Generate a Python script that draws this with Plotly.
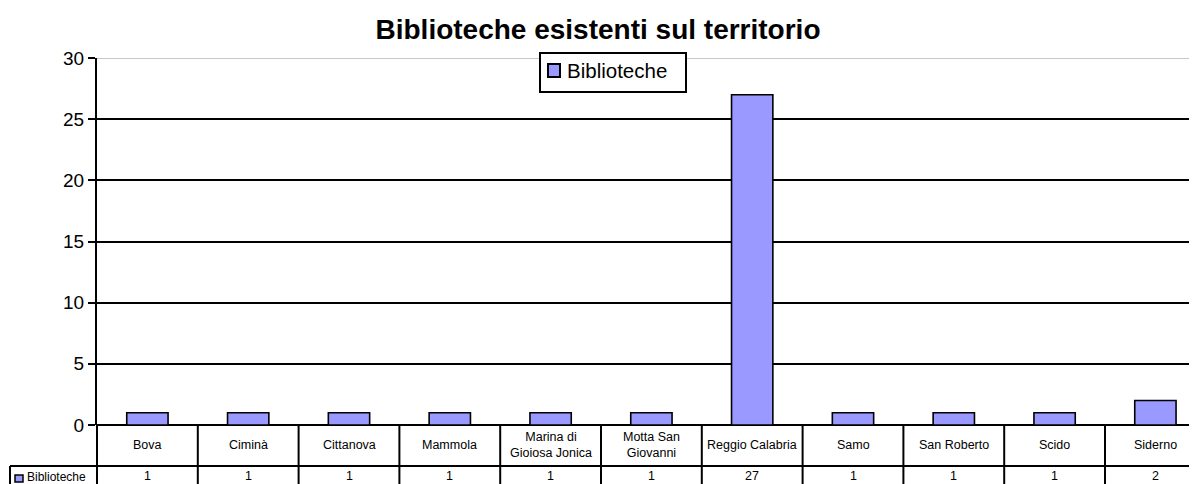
import plotly.graph_objects as go

categories = ["Bova", "Ciminà", "Cittanova", "Mammola", "Marina di Gioiosa Jonica",
              "Motta San Giovanni", "Reggio Calabria", "Samo", "San Roberto", "Scido", "Siderno"]
cat_labels = ["Bova", "Ciminà", "Cittanova", "Mammola", "Marina di<br>Gioiosa Jonica",
              "Motta San<br>Giovanni", "Reggio Calabria", "Samo", "San Roberto", "Scido", "Siderno"]
values = [1, 1, 1, 1, 1, 1, 27, 1, 1, 1, 2]
series_name = "Biblioteche"
title = "Biblioteche esistenti sul territorio"
y_ticks = [0, 5, 10, 15, 20, 25, 30]

FONT = "Arial, Liberation Sans, sans-serif"
BAR_COLOR = "#9999FF"
OFF = 8                     # body margin of the html page
W, H = 1197 - OFF, 484 - OFF
PLOT_L, PLOT_T, PLOT_B = 97, 58, 425   # page pixels
ML, MT = PLOT_L - OFF, PLOT_T - OFF
MB = H - (PLOT_B - OFF)
MR = 0
PW = W - ML - MR
PH = H - MT - MB
COL_W = 100.8


def px(xp):
    return (xp - PLOT_L) / PW


def py(yp):
    return (PLOT_B - yp) / PH


n = len(categories)
xs = list(range(n))

fig = go.Figure()
fig.add_trace(go.Bar(
    x=xs, y=values, name=series_name, width=0.41,
    marker=dict(color=BAR_COLOR, line=dict(color="black", width=1.6)),
    showlegend=False,
))

shapes = []
LINE = dict(color="black", width=2)
# value row top line
shapes.append(dict(type="line", xref="paper", yref="paper",
                   x0=px(10), x1=1.02, y0=py(466), y1=py(466), line=LINE))
# vertical separators between categories
for i in range(n - 1):
    shapes.append(dict(type="line", xref="x", yref="paper",
                       x0=i + 0.5, x1=i + 0.5, y0=0, y1=py(500), line=LINE))
# left table border (continuation of axis)
shapes.append(dict(type="line", xref="paper", yref="paper",
                   x0=0, x1=0, y0=0, y1=py(500), line=LINE))
# label cell left border
shapes.append(dict(type="line", xref="paper", yref="paper",
                   x0=px(10), x1=px(10), y0=py(466), y1=py(500), line=LINE))
# gray top gridline
shapes.append(dict(type="line", xref="paper", yref="y",
                   x0=0, x1=1, y0=y_ticks[-1], y1=y_ticks[-1],
                   line=dict(color="#c8c8c8", width=2)))
# legend key in label cell
shapes.append(dict(type="rect", xref="paper", yref="paper",
                   x0=px(15), x1=px(23), y0=py(475), y1=py(482),
                   fillcolor=BAR_COLOR, line=dict(color="black", width=1.5)))
# legend box
shapes.append(dict(type="rect", xref="paper", yref="paper",
                   x0=px(540), x1=px(686), y0=py(53), y1=py(92),
                   fillcolor="white", line=dict(color="black", width=2), layer="above"))
shapes.append(dict(type="rect", xref="paper", yref="paper",
                   x0=px(548), x1=px(560), y0=py(64), y1=py(77),
                   fillcolor=BAR_COLOR, line=dict(color="black", width=2), layer="above"))

annotations = []
for i, lab in enumerate(cat_labels):
    annotations.append(dict(x=i, y=py(445), xref="x", yref="paper",
                            text=lab, showarrow=False, xanchor="center", yanchor="middle",
                            font=dict(family=FONT, size=12.5, color="black")))
    annotations.append(dict(x=i, y=py(476), xref="x", yref="paper",
                            text=str(values[i]), showarrow=False, xanchor="center", yanchor="middle",
                            font=dict(family=FONT, size=12.5, color="black")))
annotations.append(dict(x=px(25), y=py(477), xref="paper", yref="paper",
                        text=series_name, showarrow=False, xanchor="left", yanchor="middle",
                        font=dict(family=FONT, size=12, color="black")))
annotations.append(dict(x=px(565), y=py(71), xref="paper", yref="paper",
                        text=series_name, showarrow=False, xanchor="left", yanchor="middle",
                        font=dict(family=FONT, size=20.5, color="black")))

fig.update_layout(
    width=W, height=H,
    margin=dict(l=ML, r=MR, t=MT, b=MB, pad=0),
    paper_bgcolor="white", plot_bgcolor="white",
    title=dict(text="<b>" + title + "</b>", x=(598 - OFF) / W, xanchor="center", xref="container",
               y=1 - (29 - OFF) / H, yanchor="middle", yref="container",
               font=dict(family=FONT, size=28, color="black")),
    font=dict(family=FONT, color="black"),
    showlegend=False,
    xaxis=dict(range=[-0.5, -0.5 + PW / COL_W], showticklabels=False, showgrid=False,
               zeroline=False, showline=False, ticks="", fixedrange=True),
    yaxis=dict(range=[y_ticks[0], y_ticks[-1]], tickvals=y_ticks,
               showgrid=True, gridcolor="black", gridwidth=2,
               zeroline=True, zerolinecolor="black", zerolinewidth=2,
               showline=True, linecolor="black", linewidth=2,
               ticks="outside", ticklen=7, tickwidth=2, tickcolor="black",
               tickfont=dict(family=FONT, size=19, color="black")),
    bargap=0.59,
    shapes=shapes,
    annotations=annotations,
)

fig.write_html("out.html")
